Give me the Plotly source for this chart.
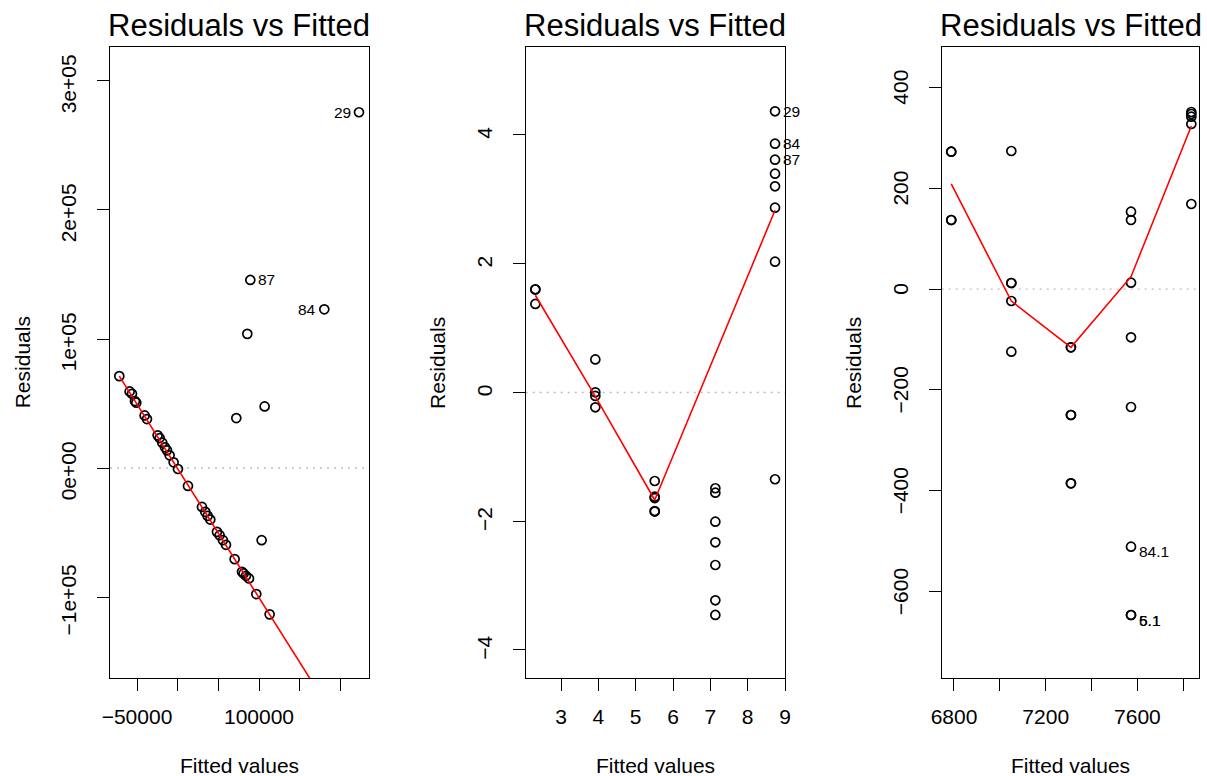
import plotly.graph_objects as go

W, H = 1207, 776

# ---- Model 1: fitted values and residuals ----
fit1 = [-71760, -59060, -56180, -52500, -50860, -40620, -37740, -24640, -22180,
        -18900, -15610, -13150, -9890, -4970, 370, 12660, 29870, 33970, 36830,
        40110, 48310, 51590, 55690, 59380, 70030, 79050, 81090, 83970, 87660,
        96670, 113060, 72080, 106910, 103220, 222930, 89290, 180270, 85610]
res1 = [71200, 59340, 57540, 51860, 50580, 40770, 37930, 25300, 23230,
        19630, 16020, 13690, 9830, 4410, -750, -13900, -30150, -34020, -37110,
        -39950, -49490, -52070, -55940, -59550, -70640, -80440, -81720, -83540, -85590,
        -97720, -113450, 38710, 47740, -55940, 275750, 145760, 123020, 103990]
smooth1_x = [-71760, 113060, 222930]
smooth1_y = [71200, -113500, -223500]
lab1_x = [222930, 89290, 180270]
lab1_y = [275750, 145760, 123020]
lab1_text = ["29", "87", "84"]
lab1_side = ["left", "right", "left"]
xtick1_vals = [-50000, 0, 50000, 100000, 150000, 200000]
xtick1_text = ["\u221250000", "", "", "100000", "", ""]
ytick1_vals = [-100000, 0, 100000, 200000, 300000]
ytick1_text = ["\u22121e+05", "0e+00", "1e+05", "2e+05", "3e+05"]

# ---- Model 2 ----
fit2 = [2.312, 2.312, 2.312,
        3.919, 3.919, 3.919, 3.919,
        5.51, 5.51, 5.51, 5.51, 5.51,
        7.134, 7.134, 7.134, 7.134, 7.134, 7.134, 7.134,
        8.733, 8.733, 8.733, 8.733, 8.733, 8.733, 8.733, 8.733]
res2 = [1.603, 1.600, 1.375,
        0.513, 0.003, -0.054, -0.230,
        -1.375, -1.619, -1.640, -1.841, -1.850,
        -1.488, -1.557, -2.007, -2.327, -2.680, -3.228, -3.456,
        4.368, 3.865, 3.616, 3.399, 3.203, 2.871, 2.032, -1.348]
smooth2_x = [2.312, 3.919, 5.51, 7.134, 8.733]
smooth2_y = [1.51, -0.06, -1.67, 0.60, 2.83]
lab2_x = [8.733, 8.733, 8.733]
lab2_y = [4.368, 3.865, 3.616]
lab2_text = ["29", "84", "87"]
lab2_side = ["right", "right", "right"]
xtick2_vals = [3, 4, 5, 6, 7, 8, 9]
xtick2_text = ["3", "4", "5", "6", "7", "8", "9"]
ytick2_vals = [-4, -2, 0, 2, 4]
ytick2_text = ["\u22124", "\u22122", "0", "2", "4"]

# ---- Model 3 ----
fit3 = [6788, 6788, 6788, 6788,
        7050, 7050, 7050, 7050, 7050,
        7310, 7310, 7310, 7310, 7310, 7310,
        7572, 7572, 7572, 7572, 7572, 7572, 7572, 7572,
        7835, 7835, 7835, 7835, 7835]
res3 = [272.3, 272.3, 136.9, 136.9,
        273.7, 12.0, 12.0, -23.7, -124.2,
        -115.5, -115.5, -249.7, -249.7, -385.1, -385.1,
        153.4, 136.9, 12.6, -95.6, -233.8, -510.8, -646.2, -646.2,
        351.0, 347.1, 341.7, 327.2, 168.6]
smooth3_x = [6788, 7050, 7310, 7572, 7835]
smooth3_y = [208.3, -23.7, -115.5, 24.5, 323.3]
lab3_x = [7572, 7572, 7572]
lab3_y = [-510.8, -646.2, -646.2]
lab3_text = ["84.1", "6.1", "5.1"]
lab3_side = ["right", "right", "right"]
xtick3_vals = [6800, 7000, 7200, 7400, 7600, 7800]
xtick3_text = ["6800", "", "7200", "", "7600", ""]
ytick3_vals = [-600, -400, -200, 0, 200, 400]
ytick3_text = ["\u2212600", "\u2212400", "\u2212200", "0", "200", "400"]

FONT = "Liberation Sans, Arial, Helvetica, sans-serif"
TICK_FONT = 21
LABEL_FONT = 15.5

# panel placement in pixels: (left, right), shared top/bottom
panels = [
    dict(px=(110, 368.7), xr=(-83190, 234850), yr=(-163000, 326100),
         fit=fit1, res=res1, sx=smooth1_x, sy=smooth1_y,
         lx=lab1_x, ly=lab1_y, lt=lab1_text, ls=lab1_side, lys=0,
         xt=(xtick1_vals, xtick1_text), yt=(ytick1_vals, ytick1_text), yshift=6),
    dict(px=(525.7, 785), xr=(2.054, 9.0), yr=(-4.44, 5.362),
         fit=fit2, res=res2, sx=smooth2_x, sy=smooth2_y,
         lx=lab2_x, ly=lab2_y, lt=lab2_text, ls=lab2_side, lys=0,
         xt=(xtick2_vals, xtick2_text), yt=(ytick2_vals, ytick2_text), yshift=1),
    dict(px=(941.7, 1199.3), xr=(6746.4, 7869.8), yr=(-771.7, 479.3),
         fit=fit3, res=res3, sx=smooth3_x, sy=smooth3_y,
         lx=lab3_x, ly=lab3_y, lt=lab3_text, ls=lab3_side, lys=-5,
         xt=(xtick3_vals, xtick3_text), yt=(ytick3_vals, ytick3_text), yshift=3),
]
TOP, BOTTOM = 47.3, 678.3
ydom = [1 - BOTTOM / H, 1 - TOP / H]

fig = go.Figure()
layout = dict(width=W, height=H, margin=dict(l=0, r=0, t=0, b=0, autoexpand=False),
              paper_bgcolor="white", plot_bgcolor="white", showlegend=False,
              font=dict(family=FONT, color="black"))
annotations = []
shapes = []

for i, p in enumerate(panels, start=1):
    suf = "" if i == 1 else str(i)
    xa, ya = "x" + suf, "y" + suf
    axis_common = dict(showgrid=False, zeroline=False, showline=True, mirror=True,
                       linecolor="black", linewidth=1.3, ticks="outside",
                       ticklen=12, tickwidth=1.3, tickcolor="black", automargin=False,
                       tickfont=dict(family=FONT, size=TICK_FONT, color="black"),
                       tickmode="array")
    layout["xaxis" + suf] = dict(axis_common, domain=[p["px"][0] / W, p["px"][1] / W],
                                 range=list(p["xr"]), anchor=ya,
                                 tickvals=p["xt"][0], ticktext=p["xt"][1],
                                 ticklabelstandoff=7)
    layout["yaxis" + suf] = dict(axis_common, domain=ydom, range=list(p["yr"]),
                                 anchor=xa, tickvals=p["yt"][0], ticktext=p["yt"][1],
                                 tickangle=-90, ticklabelstandoff=12,
                                 ticklabelshift=p["yshift"])

    # zero reference line
    shapes.append(dict(type="line", xref=xa + " domain", yref=ya, x0=0, x1=1, y0=0, y1=0,
                       line=dict(color="#BEBEBE", width=1.3, dash="2px,5px"), layer="below"))

    fig.add_trace(go.Scatter(x=p["fit"], y=p["res"], mode="markers", xaxis=xa, yaxis=ya,
                             marker=dict(symbol="circle-open", size=9, color="black",
                                         line=dict(width=1.7, color="black")),
                             cliponaxis=False, hoverinfo="x+y"))
    fig.add_trace(go.Scatter(x=p["sx"], y=p["sy"], mode="lines", xaxis=xa, yaxis=ya,
                             line=dict(color="red", width=1.6), hoverinfo="skip"))

    for x, y, t, side in zip(p["lx"], p["ly"], p["lt"], p["ls"]):
        annotations.append(dict(x=x, y=y, xref=xa, yref=ya, text=t, showarrow=False,
                                xanchor="right" if side == "left" else "left",
                                yanchor="middle",
                                xshift=-6 if side == "left" else 6, yshift=p["lys"],
                                font=dict(family=FONT, size=LABEL_FONT, color="black")))

    cx = (p["px"][0] + p["px"][1]) / 2 / W
    annotations.append(dict(x=cx, y=1 - 25.5 / H, xref="paper", yref="paper",
                            text="Residuals vs Fitted", showarrow=False,
                            xanchor="center", yanchor="middle",
                            font=dict(family=FONT, size=31, color="black")))
    annotations.append(dict(x=cx, y=0, xref="paper", yref="paper",
                            text="Fitted values", showarrow=False,
                            xanchor="center", yanchor="bottom", yshift=-3,
                            font=dict(family=FONT, size=TICK_FONT, color="black")))
    annotations.append(dict(x=(p["px"][0] - 87.5) / W, y=1 - (TOP + BOTTOM) / 2 / H,
                            xref="paper", yref="paper", text="Residuals", textangle=-90,
                            showarrow=False, xanchor="center", yanchor="middle",
                            font=dict(family=FONT, size=TICK_FONT, color="black")))

layout["annotations"] = annotations
layout["shapes"] = shapes
fig.update_layout(**layout)
fig.write_html("out.html")
